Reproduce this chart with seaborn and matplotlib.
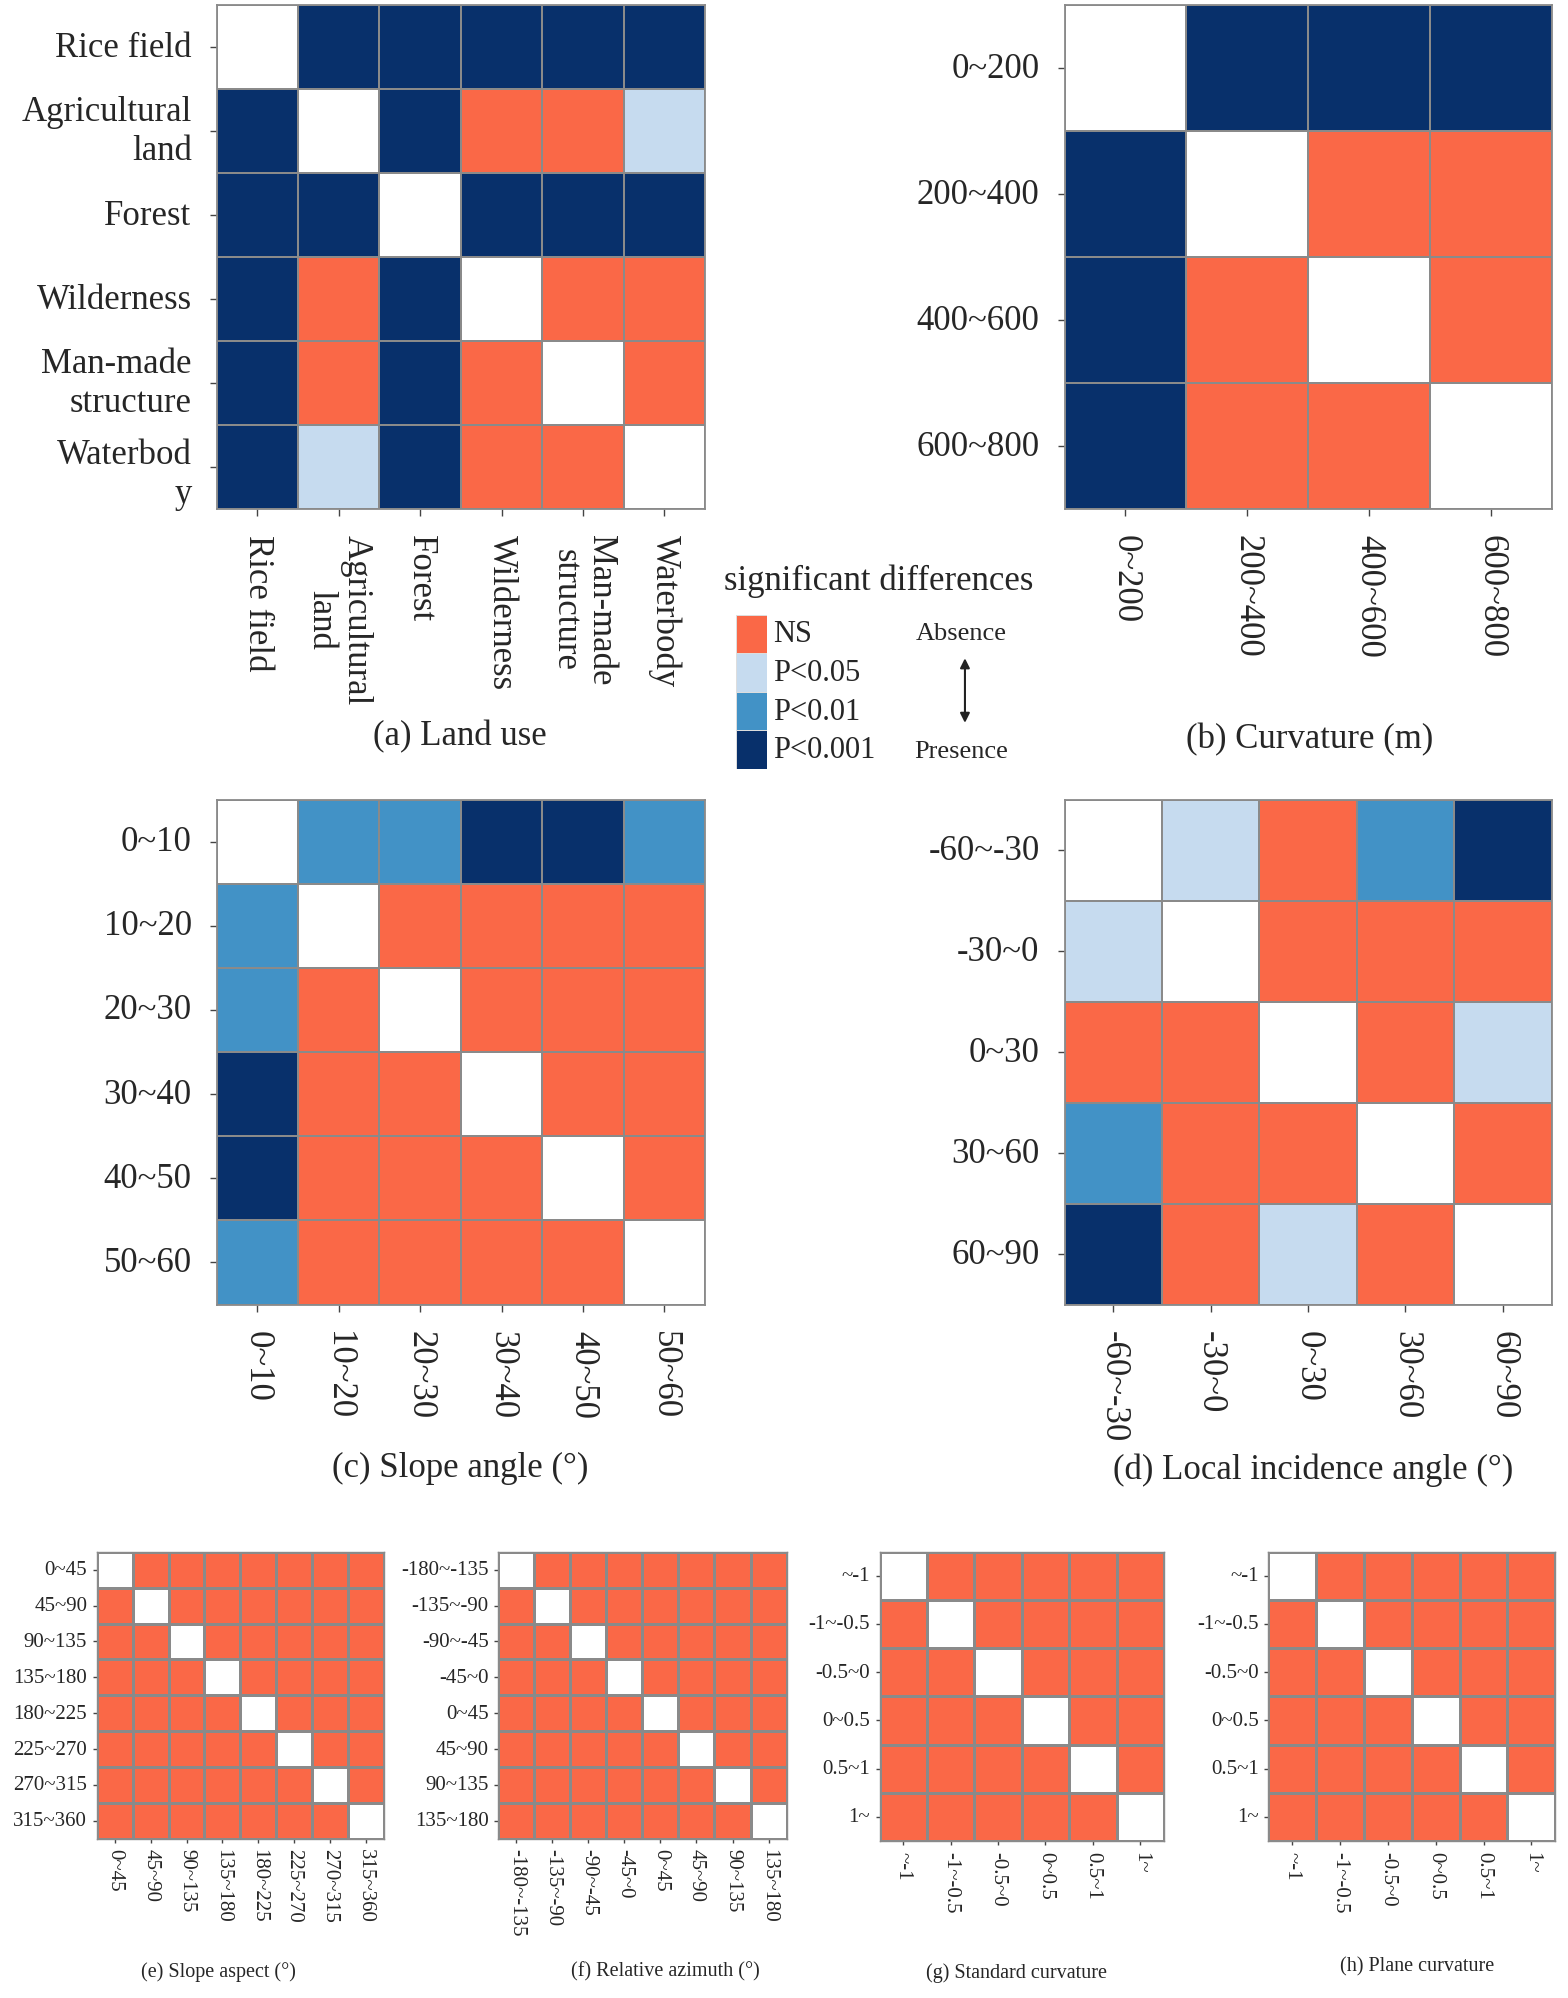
import numpy as np
import pandas as pd
import seaborn as sns
import matplotlib.pyplot as plt
from matplotlib.colors import ListedColormap

# codes: 0 = same class (diagonal), 1 = NS, 2 = P<0.05, 3 = P<0.01, 4 = P<0.001
land_use_x = ['Rice field', 'Agricultural\nland', 'Forest', 'Wilderness', 'Man-made\nstructure', 'Waterbody']
land_use_y = ['Rice field', 'Agricultural\nland', 'Forest', 'Wilderness', 'Man-made\nstructure', 'Waterbod\ny']
land_use_sig = [[0, 4, 4, 4, 4, 4],
                [4, 0, 4, 1, 1, 2],
                [4, 4, 0, 4, 4, 4],
                [4, 1, 4, 0, 1, 1],
                [4, 1, 4, 1, 0, 1],
                [4, 2, 4, 1, 1, 0]]

curvature_m = ['0~200', '200~400', '400~600', '600~800']
curvature_m_sig = [[0, 4, 4, 4],
                   [4, 0, 1, 1],
                   [4, 1, 0, 1],
                   [4, 1, 1, 0]]

slope_angle = ['0~10', '10~20', '20~30', '30~40', '40~50', '50~60']
slope_angle_sig = [[0, 3, 3, 4, 4, 3],
                   [3, 0, 1, 1, 1, 1],
                   [3, 1, 0, 1, 1, 1],
                   [4, 1, 1, 0, 1, 1],
                   [4, 1, 1, 1, 0, 1],
                   [3, 1, 1, 1, 1, 0]]

incidence = ['-60~-30', '-30~0', '0~30', '30~60', '60~90']
incidence_sig = [[0, 2, 1, 3, 4],
                 [2, 0, 1, 1, 1],
                 [1, 1, 0, 1, 2],
                 [3, 1, 1, 0, 1],
                 [4, 1, 2, 1, 0]]

aspect = ['0~45', '45~90', '90~135', '135~180', '180~225', '225~270', '270~315', '315~360']
aspect_sig = [[0, 1, 1, 1, 1, 1, 1, 1],
              [1, 0, 1, 1, 1, 1, 1, 1],
              [1, 1, 0, 1, 1, 1, 1, 1],
              [1, 1, 1, 0, 1, 1, 1, 1],
              [1, 1, 1, 1, 0, 1, 1, 1],
              [1, 1, 1, 1, 1, 0, 1, 1],
              [1, 1, 1, 1, 1, 1, 0, 1],
              [1, 1, 1, 1, 1, 1, 1, 0]]

azimuth = ['-180~-135', '-135~-90', '-90~-45', '-45~0', '0~45', '45~90', '90~135', '135~180']
azimuth_sig = [[0, 1, 1, 1, 1, 1, 1, 1],
               [1, 0, 1, 1, 1, 1, 1, 1],
               [1, 1, 0, 1, 1, 1, 1, 1],
               [1, 1, 1, 0, 1, 1, 1, 1],
               [1, 1, 1, 1, 0, 1, 1, 1],
               [1, 1, 1, 1, 1, 0, 1, 1],
               [1, 1, 1, 1, 1, 1, 0, 1],
               [1, 1, 1, 1, 1, 1, 1, 0]]

curv_classes = ['~-1', '-1~-0.5', '-0.5~0', '0~0.5', '0.5~1', '1~']
std_curv_sig = [[0, 1, 1, 1, 1, 1],
                [1, 0, 1, 1, 1, 1],
                [1, 1, 0, 1, 1, 1],
                [1, 1, 1, 0, 1, 1],
                [1, 1, 1, 1, 0, 1],
                [1, 1, 1, 1, 1, 0]]
plane_curv_sig = [[0, 1, 1, 1, 1, 1],
                  [1, 0, 1, 1, 1, 1],
                  [1, 1, 0, 1, 1, 1],
                  [1, 1, 1, 0, 1, 1],
                  [1, 1, 1, 1, 0, 1],
                  [1, 1, 1, 1, 1, 0]]

legend_labels = ['NS', 'P<0.05', 'P<0.01', 'P<0.001']
legend_codes = [1, 2, 3, 4]

sns.set_theme(style='white')
plt.rcParams['font.family'] = ['Liberation Serif', 'DejaVu Serif']

sig_colors = ['#FFFFFF', '#FA6847', '#C6DBEF', '#4292C6', '#08306B']
sig_cmap = ListedColormap(sig_colors)
grid_grey = '#8a8a8a'

fig = plt.figure(figsize=(15.68, 19.99), dpi=100)


def draw_panel(rect, data, xlabels, ylabels, fs, lw, pad, tlen):
    ax = fig.add_axes(rect)
    df = pd.DataFrame(data, index=range(len(ylabels)), columns=range(len(xlabels)))
    sns.heatmap(df, ax=ax, cmap=sig_cmap, vmin=-0.5, vmax=4.5, cbar=False,
                linewidths=lw, linecolor=grid_grey,
                xticklabels=xlabels, yticklabels=ylabels)
    plt.setp(ax.get_xticklabels(), rotation=270, ha='center', va='top', fontsize=fs, linespacing=1.1)
    plt.setp(ax.get_yticklabels(), rotation=0, ha='right', va='center', fontsize=fs, linespacing=1.25)
    ax.tick_params(left=True, bottom=True, length=tlen, width=1, color='#444444', pad=pad)
    for s in ax.spines.values():
        s.set_visible(True)
        s.set_color(grid_grey)
        s.set_linewidth(lw)
    ax.set_xlabel('')
    ax.set_ylabel('')
    return ax


# top panels (a)-(d)
ax_a = draw_panel([0.1382, 0.7449, 0.3114, 0.2519], land_use_sig, land_use_x, land_use_y, 25, 1.3, 13, 5)
ax_a.get_yticklabels()[-1].set_va('center_baseline')
draw_panel([0.6789, 0.7449, 0.3106, 0.2519], curvature_m_sig, curvature_m, curvature_m, 25, 1.3, 13, 5)
draw_panel([0.1382, 0.3469, 0.3114, 0.2526], slope_angle_sig, slope_angle, slope_angle, 25, 1.3, 13, 5)
draw_panel([0.6789, 0.3469, 0.3106, 0.2526], incidence_sig, incidence, incidence, 25, 1.3, 13, 5)

# bottom panels (e)-(h)
draw_panel([0.0618, 0.0797, 0.1829, 0.1435], aspect_sig, aspect, aspect, 15, 1.0, 4, 3)
draw_panel([0.3179, 0.0797, 0.1837, 0.1435], azimuth_sig, azimuth, azimuth, 15, 1.0, 4, 3)
draw_panel([0.5610, 0.0785, 0.1813, 0.1448], std_curv_sig, curv_classes, curv_classes, 15, 1.0, 4, 3)
draw_panel([0.8089, 0.0785, 0.1830, 0.1448], plane_curv_sig, curv_classes, curv_classes, 15, 1.0, 4, 3)

# captions
fig.text(0.2935, 0.6314, '(a) Land use', ha='center', va='center', fontsize=25)
fig.text(0.8350, 0.6300, '(b) Curvature (m)', ha='center', va='center', fontsize=25)
fig.text(0.2935, 0.2653, '(c) Slope angle (°)', ha='center', va='center', fontsize=25)
fig.text(0.8374, 0.2647, '(d) Local incidence angle (°)', ha='center', va='center', fontsize=25)
fig.text(0.1390, 0.0134, '(e) Slope aspect (°)', ha='center', va='center', fontsize=14.5)
fig.text(0.4244, 0.0134, '(f) Relative azimuth (°)', ha='center', va='center', fontsize=14.5)
fig.text(0.6480, 0.0128, '(g) Standard curvature', ha='center', va='center', fontsize=14.5)
fig.text(0.9040, 0.0159, '(h) Plane curvature', ha='center', va='center', fontsize=14.5)

# legend
fig.text(0.4618, 0.7092, 'significant differences', ha='left', va='center', fontsize=25)
ax_leg = fig.add_axes([0.4691, 0.6148, 0.0203, 0.0772])
sns.heatmap(pd.DataFrame({'code': legend_codes}), ax=ax_leg, cmap=sig_cmap, vmin=-0.5, vmax=4.5,
            cbar=False, linewidths=0.5, linecolor='#dddddd', xticklabels=False, yticklabels=legend_labels)
ax_leg.yaxis.tick_right()
plt.setp(ax_leg.get_yticklabels(), rotation=0, ha='left', va='center', fontsize=22)
ax_leg.tick_params(right=True, left=False, length=0, pad=4)
ax_leg.set_ylabel('')

fig.text(0.613, 0.683, 'Absence', ha='center', va='center', fontsize=19)
fig.text(0.613, 0.6237, 'Presence', ha='center', va='center', fontsize=19)
ax_leg.annotate('', xy=(0.6154, 0.6716), xytext=(0.6154, 0.6365), xycoords='figure fraction',
                textcoords='figure fraction',
                arrowprops=dict(arrowstyle='<|-|>', color='#222222', lw=1.5, mutation_scale=14))

fig.savefig('out.png', dpi=100)
